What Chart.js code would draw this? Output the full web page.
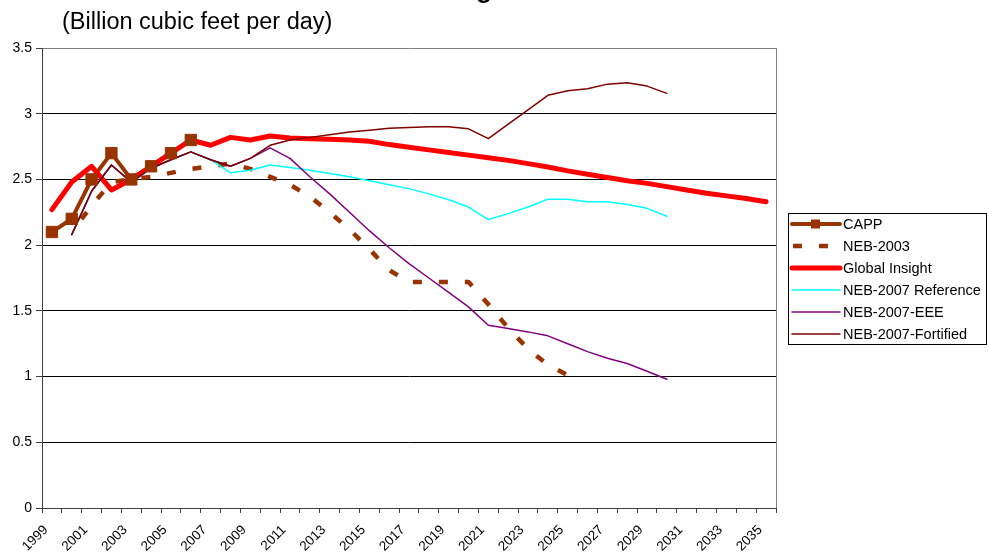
<!DOCTYPE html>
<html>
<head>
<meta charset="utf-8">
<script src="https://cdn.jsdelivr.net/npm/chart.js@4.4.1/dist/chart.umd.min.js"></script>
<style>
  html, body { margin: 0; padding: 0; background: #fff; }
  canvas { display: block; }
</style>
</head>
<body>
<canvas id="chart" width="989" height="557"></canvas>
<script>
// categories: one per year, 1999 .. 2035
const years = [
  '1999', '2000', '2001', '2002', '2003', '2004', '2005', '2006', '2007', '2008',
  '2009', '2010', '2011', '2012', '2013', '2014', '2015', '2016', '2017', '2018',
  '2019', '2020', '2021', '2022', '2023', '2024', '2025', '2026', '2027', '2028',
  '2029', '2030', '2031', '2032', '2033', '2034', '2035'
];

// Billion cubic feet per day
const capp = [2.1, 2.2, 2.5, 2.7, 2.5, 2.6, 2.7, 2.8];

const neb2003 = [
  null, 2.1, 2.3, 2.48, 2.5, 2.52, 2.55, 2.58, 2.6, 2.62,
  2.58, 2.52, 2.46, 2.37, 2.25, 2.12, 1.97, 1.81, 1.72, 1.72,
  1.72, 1.72, 1.55, 1.37, 1.21, 1.09, 1.01
];

const globalInsight = [
  2.27, 2.48, 2.6, 2.42, 2.5, 2.6, 2.7, 2.8, 2.76, 2.82,
  2.8, 2.83, 2.815, 2.81, 2.805, 2.8, 2.79, 2.765, 2.745, 2.725,
  2.705, 2.685, 2.665, 2.645, 2.62, 2.595, 2.565, 2.54, 2.515, 2.49,
  2.47, 2.445, 2.42, 2.395, 2.375, 2.355, 2.33
];

const neb2007Reference = [
  null, 2.08, 2.41, 2.61, 2.48, 2.585, 2.65, 2.71, 2.65, 2.55,
  2.57, 2.61, 2.59, 2.57, 2.545, 2.52, 2.49, 2.46, 2.43, 2.39,
  2.345, 2.29, 2.195, 2.24, 2.29, 2.35, 2.35, 2.33, 2.33, 2.31,
  2.28, 2.22
];

const neb2007EEE = [
  null, 2.08, 2.41, 2.61, 2.48, 2.585, 2.65, 2.71, 2.65, 2.6,
  2.66, 2.74, 2.66, 2.52, 2.39, 2.25, 2.11, 1.98, 1.86, 1.75,
  1.64, 1.53, 1.39, 1.365, 1.34, 1.31, 1.25, 1.19, 1.14, 1.1,
  1.04, 0.98
];

const neb2007Fortified = [
  null, 2.08, 2.41, 2.61, 2.48, 2.585, 2.65, 2.71, 2.65, 2.6,
  2.66, 2.76, 2.8, 2.82, 2.84, 2.86, 2.875, 2.89, 2.895, 2.9,
  2.9, 2.885, 2.81, 2.92, 3.03, 3.14, 3.175, 3.19, 3.225, 3.235,
  3.21, 3.155
];

const FONT = "'Liberation Sans', Arial, sans-serif";
const BROWN = '#993300';

// draws the clipped title, the subtitle, the plot frame and the boxed legend
const decorations = {
  id: 'decorations',
  afterDraw (chart) {
    const { ctx, chartArea: area } = chart;
    ctx.save();

    ctx.fillStyle = '#000';
    ctx.textAlign = 'right';
    ctx.textBaseline = 'alphabetic';
    ctx.font = 'bold 26px ' + FONT;
    ctx.fillText('Western Canada Natural Gas Forecasting', 492, -2);

    ctx.textAlign = 'left';
    ctx.font = '23.5px ' + FONT;
    ctx.fillText('(Billion cubic feet per day)', 62, 28.5);

    // right edge of the plot area
    ctx.strokeStyle = '#808080';
    ctx.lineWidth = 1;
    ctx.beginPath();
    ctx.moveTo(Math.round(area.right) + 0.5, area.top);
    ctx.lineTo(Math.round(area.right) + 0.5, area.bottom);
    ctx.stroke();

    // legend
    const box = { x: 788.5, y: 213.5, w: 198, h: 131 };
    ctx.strokeStyle = '#000';
    ctx.strokeRect(box.x, box.y, box.w, box.h);

    const items = chart.data.datasets.filter(d => d.inLegend);
    ctx.font = '14.5px ' + FONT;
    ctx.textBaseline = 'middle';
    items.forEach((d, i) => {
      const y = 224 + i * 22;
      ctx.save();
      ctx.strokeStyle = d.borderColor;
      ctx.lineWidth = d.borderWidth;
      ctx.lineCap = d.borderDash ? 'butt' : 'round';
      ctx.setLineDash(d.borderDash || []);
      ctx.beginPath();
      ctx.moveTo(d.borderDash ? 793 : 792, y);
      ctx.lineTo(840, y);
      ctx.stroke();
      if (d.legendMarker) {
        ctx.fillStyle = d.borderColor;
        ctx.fillRect(811, y - 4.5, 9, 9);
      }
      ctx.restore();
      ctx.fillStyle = '#000';
      ctx.fillText(d.label, 843, y + 1);
    });

    ctx.restore();
  }
};

new Chart(document.getElementById('chart'), {
  type: 'line',
  data: {
    labels: years,
    datasets: [
      {
        label: 'CAPP', data: capp, inLegend: true, legendMarker: true,
        borderColor: BROWN, borderWidth: 4, pointRadius: 0, order: 6
      },
      {
        label: 'NEB-2003', data: neb2003, inLegend: true,
        borderColor: BROWN, borderWidth: 4.5, borderDash: [9, 17], borderDashOffset: 10,
        borderCapStyle: 'butt', pointRadius: 0, order: 5
      },
      {
        label: 'Global Insight', data: globalInsight, inLegend: true,
        borderColor: '#ff0000', borderWidth: 5, pointRadius: 0, order: 4
      },
      {
        label: 'NEB-2007 Reference', data: neb2007Reference, inLegend: true,
        borderColor: '#00ffff', borderWidth: 1.5, pointRadius: 0, order: 3
      },
      {
        label: 'NEB-2007-EEE', data: neb2007EEE, inLegend: true,
        borderColor: '#800080', borderWidth: 1.5, pointRadius: 0, order: 2
      },
      {
        label: 'NEB-2007-Fortified', data: neb2007Fortified, inLegend: true,
        borderColor: '#800000', borderWidth: 1.5, pointRadius: 0, order: 1
      },
      {
        // CAPP markers sit above every line, as in the original
        label: 'CAPP markers', data: capp, showLine: false,
        pointStyle: 'rect', pointRadius: 8, pointBorderWidth: 1,
        pointBackgroundColor: BROWN, pointBorderColor: BROWN, order: 0
      }
    ]
  },
  options: {
    responsive: false,
    animation: false,
    devicePixelRatio: 1,
    layout: { padding: { top: 48, right: 213, left: 0, bottom: 0 } },
    elements: {
      line: { tension: 0, borderCapStyle: 'round', borderJoinStyle: 'round', fill: false }
    },
    plugins: {
      legend: { display: false },
      title: { display: false },
      tooltip: { enabled: false }
    },
    scales: {
      x: {
        offset: true,
        grid: {
          offset: true, drawOnChartArea: false, drawTicks: true,
          tickLength: 5, color: '#404040'
        },
        border: { color: '#404040' },
        ticks: {
          autoSkip: false, minRotation: 45, maxRotation: 45,
          padding: 9, labelOffset: -6,
          color: '#000', font: { family: FONT, size: 13.5 },
          callback (value, index) {
            return index % 2 === 0 ? this.getLabelForValue(value) : '';
          }
        },
        afterFit (scale) { scale.height = 49; }
      },
      y: {
        min: 0,
        max: 3.5,
        grid: {
          color: c => (c.tick && c.tick.value === 3.5 ? '#808080' : '#000'),
          tickColor: '#404040',
          tickLength: 6
        },
        border: { color: '#404040' },
        ticks: {
          stepSize: 0.5, padding: 4, color: '#000',
          font: { family: FONT, size: 14 },
          callback: v => String(v)
        },
        afterFit (scale) { scale.width = 42; }
      }
    }
  },
  plugins: [decorations]
});
</script>
</body>
</html>
